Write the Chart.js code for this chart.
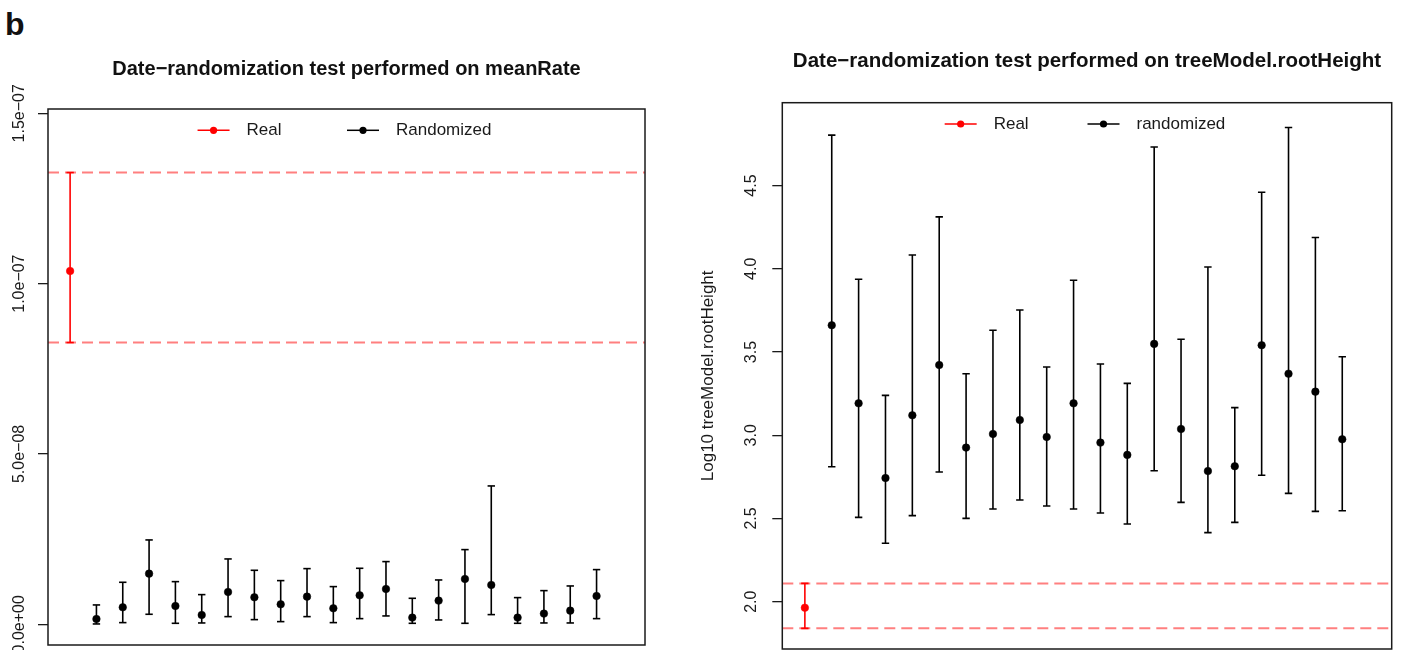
<!DOCTYPE html>
<html>
<head>
<meta charset="utf-8">
<title>Date-randomization tests</title>
<script src="https://cdn.jsdelivr.net/npm/chart.js@4.4.1/dist/chart.umd.min.js"></script>
<style>
  html, body { margin: 0; padding: 0; background: #fff; }
  body { position: relative; width: 1401px; height: 650px; overflow: hidden; }
  canvas { position: absolute; top: 0; }
  #rateChart { left: 0; }
  #heightChart { left: 690px; }
  #panelTag { position: absolute; left: 5px; top: 8px; font: bold 32px/1 'Liberation Sans', Arial, sans-serif; color: #111; }
</style>
</head>
<body>
<div id="panelTag">b</div>
<canvas id="rateChart" width="690" height="650"></canvas>
<canvas id="heightChart" width="711" height="650"></canvas>
<script>
// x position of each run: 1 = real sampling dates, 2..21 = randomized replicates
const realIndex = [1];
const randIndex = [2, 3, 4, 5, 6, 7, 8, 9, 10, 11, 12, 13, 14, 15, 16, 17, 18, 19, 20, 21];

// meanRate: mean and 95% HPD
const rateReal = [1.037e-7];
const rateRealLow = [0.827e-7];
const rateRealHigh = [1.326e-7];
const rateRand = [1.57e-9, 4.99e-9, 14.87e-9, 5.38e-9, 2.74e-9, 9.49e-9, 7.93e-9, 5.87e-9, 8.12e-9, 4.70e-9,
                  8.51e-9, 10.37e-9, 1.96e-9, 6.95e-9, 13.31e-9, 11.55e-9, 1.96e-9, 3.13e-9, 4.01e-9, 8.32e-9];
const rateRandLow = [0.10e-9, 0.49e-9, 2.94e-9, 0.29e-9, 0.39e-9, 2.25e-9, 1.37e-9, 0.78e-9, 2.25e-9, 0.49e-9,
                     1.66e-9, 2.45e-9, 0.29e-9, 1.27e-9, 0.29e-9, 2.84e-9, 0.29e-9, 0.39e-9, 0.39e-9, 1.66e-9];
const rateRandHigh = [5.68e-9, 12.33e-9, 24.76e-9, 12.52e-9, 8.71e-9, 19.18e-9, 15.85e-9, 12.82e-9, 16.34e-9, 11.06e-9,
                      16.44e-9, 18.40e-9, 7.63e-9, 13.01e-9, 21.92e-9, 40.61e-9, 7.83e-9, 9.88e-9, 11.25e-9, 16.05e-9];

// log10 treeModel.rootHeight: mean and 95% HPD
const heightReal = [1.964];
const heightRealLow = [1.840];
const heightRealHigh = [2.110];
const heightRand = [3.661, 3.192, 2.743, 3.120, 3.422, 2.926, 3.008, 3.092, 2.990, 3.192,
                    2.956, 2.882, 3.549, 3.038, 2.785, 2.814, 3.541, 3.370, 3.262, 2.976];
const heightRandLow = [2.811, 2.507, 2.351, 2.517, 2.779, 2.501, 2.557, 2.611, 2.575, 2.557,
                       2.533, 2.467, 2.787, 2.597, 2.415, 2.477, 2.760, 2.651, 2.543, 2.547];
const heightRandHigh = [4.803, 3.937, 3.240, 4.083, 4.312, 3.370, 3.631, 3.753, 3.410, 3.931,
                        3.428, 3.312, 4.732, 3.577, 4.011, 3.166, 4.460, 4.849, 4.188, 3.472];

const rateLegend = ['Real', 'Randomized'];
const heightLegend = ['Real', 'randomized'];
const legendColors = ['#ff0000', '#000000'];

const xMin = 0.16, xMax = 22.84;
const ink = '#1a1a1a';

Chart.defaults.font.family = "'Liberation Sans', Arial, Helvetica, sans-serif";
Chart.defaults.color = ink;

const pts = (xs, ys) => xs.map((x, i) => ({ x: x, y: ys[i] }));
// one vertical segment per run, broken apart with null points
const segments = (xs, lo, hi) => xs.flatMap((x, i) => [{ x: x, y: lo[i] }, { x: x, y: hi[i] }, { x: x, y: null }]);

function errorSets(xs, mean, lo, hi, color) {
  return [
    { data: pts(xs, mean), pointRadius: 3.8, pointBorderWidth: 0.5,
      pointBackgroundColor: color, pointBorderColor: color, showLine: false },
    { data: pts(xs, lo).concat(pts(xs, hi)), pointStyle: 'line', pointRadius: 3.7,
      pointBorderWidth: 1.6, pointBorderColor: color, showLine: false },
    { data: segments(xs, lo, hi), borderColor: color, borderWidth: 1.6,
      pointRadius: 0, showLine: true, spanGaps: false },
  ];
}

function hline(v) {
  return { data: [{ x: xMin, y: v }, { x: xMax, y: v }], borderColor: 'rgba(255,0,0,0.5)',
           borderWidth: 2, borderDash: [11, 6], pointRadius: 0, showLine: true };
}

function sci(v) {
  const parts = Number(v).toExponential(1).split('e');
  const sign = parts[1][0] === '-' ? '\u2212' : '+';
  return parts[0] + 'e' + sign + parts[1].slice(1).padStart(2, '0');
}

const frame = {
  id: 'frame',
  afterDraw(chart) {
    const { ctx, chartArea: a } = chart;
    ctx.save();
    ctx.strokeStyle = ink;
    ctx.lineWidth = 1.5;
    ctx.strokeRect(a.left, a.top, a.right - a.left, a.bottom - a.top);
    ctx.restore();
  }
};

// R-style horizontal legend centred at the top, inside the plot box
const topLegend = {
  id: 'topLegend',
  afterDatasetsDraw(chart, args, opts) {
    const { ctx, chartArea: a } = chart;
    ctx.save();
    ctx.font = '17px ' + Chart.defaults.font.family;
    ctx.textBaseline = 'middle';
    const widths = opts.labels.map(t => ctx.measureText(t).width);
    const col = 49 + Math.max(...widths) + 5;
    const total = col * (opts.labels.length - 1) + 49 + widths[widths.length - 1];
    let x = (a.left + a.right) / 2 - total / 2 - 2;
    const y = a.top + 21.3;
    opts.labels.forEach((label, i) => {
      ctx.strokeStyle = ctx.fillStyle = opts.colors[i];
      ctx.lineWidth = 1.5;
      ctx.beginPath(); ctx.moveTo(x, y); ctx.lineTo(x + 32, y); ctx.stroke();
      ctx.beginPath(); ctx.arc(x + 16, y, 3.6, 0, Math.PI * 2); ctx.fill();
      ctx.fillStyle = ink;
      ctx.fillText(label, x + 49, y);
      x += col;
    });
    ctx.restore();
  }
};

function makeChart(id, cfg) {
  return new Chart(document.getElementById(id), {
    type: 'scatter',
    data: { datasets: cfg.datasets },
    options: {
      responsive: false,
      animation: false,
      events: [],
      layout: { padding: cfg.padding, autoPadding: false },
      plugins: {
        legend: { display: false },
        tooltip: { enabled: false },
        title: { display: true, text: cfg.title, color: '#111', fullSize: false,
                 font: { size: cfg.titleSize, weight: 'bold' }, padding: cfg.titlePadding },
        topLegend: { labels: cfg.legend, colors: legendColors },
      },
      scales: {
        x: { type: 'linear', min: xMin, max: xMax, display: false },
        y: {
          type: 'linear',
          min: cfg.yMin,
          max: cfg.yMax,
          border: { display: false },
          grid: { drawOnChartArea: false, tickLength: 10, color: ink, lineWidth: 1.3 },
          ticks: {
            stepSize: cfg.step, includeBounds: false, autoSkip: false,
            minRotation: 90, maxRotation: 90, crossAlign: 'center',
            padding: cfg.tickPad, font: { size: 16 }, color: ink,
            callback: cfg.format,
          },
          title: cfg.yTitle
            ? { display: true, text: cfg.yTitle, color: ink, font: { size: 17 }, padding: { top: 8.3, bottom: 0 } }
            : { display: false },
          afterFit(scale) {
            scale.width = cfg.axisWidth;
            scale.paddingTop = 0;
            scale.paddingBottom = 0;
          },
        },
      },
    },
    plugins: [frame, topLegend],
  });
}

// datasets listed top-most first (Chart.js paints the first one last)
makeChart('rateChart', {
  title: 'Date\u2212randomization test performed on meanRate',
  titleSize: 20,
  legend: rateLegend,
  datasets: [
    ...errorSets(realIndex, rateReal, rateRealLow, rateRealHigh, '#ff0000'),
    ...errorSets(randIndex, rateRand, rateRandLow, rateRandHigh, '#000000'),
    hline(rateRealHigh[0]),
    hline(rateRealLow[0]),
  ],
  yMin: -6.08e-9, yMax: 1.5126e-7, step: 5e-8, format: sci,
  tickPad: -11, axisWidth: 48,
  padding: { left: 0, right: 45, top: 0, bottom: 5 },
  titlePadding: { top: 57.2, bottom: 27.8 },
});

makeChart('heightChart', {
  title: 'Date\u2212randomization test performed on treeModel.rootHeight',
  titleSize: 20.5,
  legend: heightLegend,
  datasets: [
    ...errorSets(realIndex, heightReal, heightRealLow, heightRealHigh, '#ff0000'),
    ...errorSets(randIndex, heightRand, heightRandLow, heightRandHigh, '#000000'),
    hline(heightRealHigh[0]),
    hline(heightRealLow[0]),
  ],
  yMin: 1.716, yMax: 4.998, step: 0.5, format: v => Number(v).toFixed(1),
  tickPad: 9.5, axisWidth: 92.3, yTitle: 'Log10 treeModel.rootHeight',
  padding: { left: 0, right: 9.3, top: 0, bottom: 1 },
  titlePadding: { top: 48.9, bottom: 29.2 },
});
</script>
</body>
</html>
